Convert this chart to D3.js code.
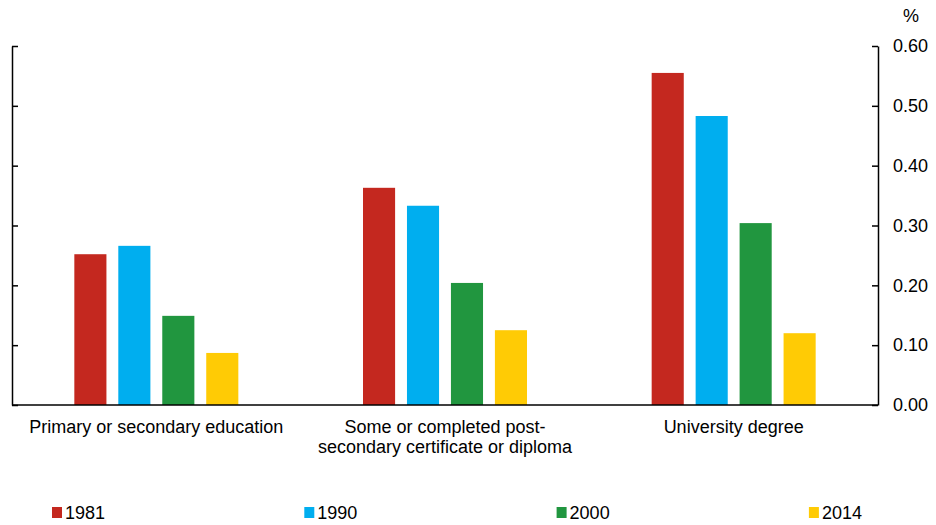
<!DOCTYPE html>
<html>
<head>
<meta charset="utf-8">
<script src="https://cdn.jsdelivr.net/npm/d3@7"></script>
<style>
  body { margin: 0; background: #fff; }
  text { font-family: "Liberation Sans", Arial, sans-serif; fill: #000; }
</style>
</head>
<body>
<div id="chart"></div>
<script>
// categories, each label split in lines
const categories = [
  ["Primary or secondary education"],
  ["Some or completed post-", "secondary certificate or diploma"],
  ["University degree"]
]
const years = ["1981", "1990", "2000", "2014"]
const colors = ["#c4281f", "#00aeef", "#21963f", "#ffcb05"]
// values per year, one per category
const v1981 = [0.252, 0.363, 0.555]
const v1990 = [0.266, 0.333, 0.483]
const v2000 = [0.149, 0.204, 0.304]
const v2014 = [0.087, 0.125, 0.120]
const yTicks = [0, 0.1, 0.2, 0.3, 0.4, 0.5, 0.6]

const series = [v1981, v1990, v2000, v2014]

const width = 936, height = 525
const margin = {top: 46, right: 58, bottom: 120, left: 12}
const w = width - margin.left - margin.right
const h = height - margin.top - margin.bottom
const fontSize = '18px'

const svg = d3.select('#chart')
  .append('svg')
  .attr('width', width)
  .attr('height', height)

const g = svg.append('g')
  .attr('transform', 'translate(' + margin.left + ',' + margin.top + ')')

const x0 = d3.scaleBand()
  .domain(d3.range(categories.length))
  .range([0, w])

// inner band for the four bars
const x1 = d3.scaleBand()
  .domain(years)
  .range([0, 164])
  .paddingInner(0.27)

const y = d3.scaleLinear()
  .domain([0, 0.6])
  .range([h, 0])

// bars
categories.forEach((c, ci) => {
  const off = x0(ci) + x0.bandwidth() / 2 - 82
  g.selectAll('.bar-' + ci)
    .data(years)
    .enter().append('rect')
    .attr('x', d => off + x1(d))
    .attr('y', (d, i) => y(series[i][ci]))
    .attr('width', x1.bandwidth())
    .attr('height', (d, i) => h - y(series[i][ci]))
    .attr('fill', (d, i) => colors[i])
})

// right axis
const yAxisR = d3.axisRight(y)
  .tickValues(yTicks)
  .tickSize(0)
  .tickPadding(15)
  .tickFormat(d3.format('.2f'))
const ra = g.append('g')
  .attr('transform', 'translate(' + w + ',0)')
  .call(yAxisR)
ra.select('.domain').attr('stroke', '#000').attr('stroke-width', 1.5)
ra.selectAll('text').style('font-size', fontSize)
ra.selectAll('.tick').append('line')
  .attr('x1', -6).attr('x2', 0)
  .attr('stroke', '#000').attr('stroke-width', 1.5)

// left axis, ticks pointing inward
const la = g.append('g')
  .call(d3.axisLeft(y).tickValues(yTicks).tickSize(0).tickFormat(''))
la.select('.domain').attr('stroke', '#000').attr('stroke-width', 1.5)
la.selectAll('.tick').append('line')
  .attr('x1', 0).attr('x2', 6)
  .attr('stroke', '#000').attr('stroke-width', 1.5)

// baseline
g.append('line')
  .attr('x1', 0).attr('x2', w)
  .attr('y1', y(0)).attr('y2', y(0))
  .attr('stroke', '#000').attr('stroke-width', 1.5)

// unit label
g.append('text')
  .attr('x', w + 33)
  .attr('y', -24)
  .attr('text-anchor', 'middle')
  .style('font-size', fontSize)
  .text('%')

// category labels
categories.forEach((lines, ci) => {
  const t = g.append('text')
    .attr('text-anchor', 'middle')
    .style('font-size', fontSize)
  lines.forEach((l, li) => {
    t.append('tspan')
      .attr('x', x0(ci) + x0.bandwidth() / 2)
      .attr('y', h + 28 + li * 20)
      .text(l)
  })
})

// legend
const legend = svg.append('g')
  .attr('transform', 'translate(52,' + (height - 18) + ')')
const item = legend.selectAll('g')
  .data(years)
  .enter().append('g')
  .attr('transform', (d, i) => 'translate(' + (i * 252.3) + ',0)')
item.append('rect')
  .attr('width', 10).attr('height', 11)
  .attr('fill', (d, i) => colors[i])
item.append('text')
  .attr('x', 13)
  .attr('y', 12)
  .style('font-size', fontSize)
  .text(d => d)
</script>
</body>
</html>
